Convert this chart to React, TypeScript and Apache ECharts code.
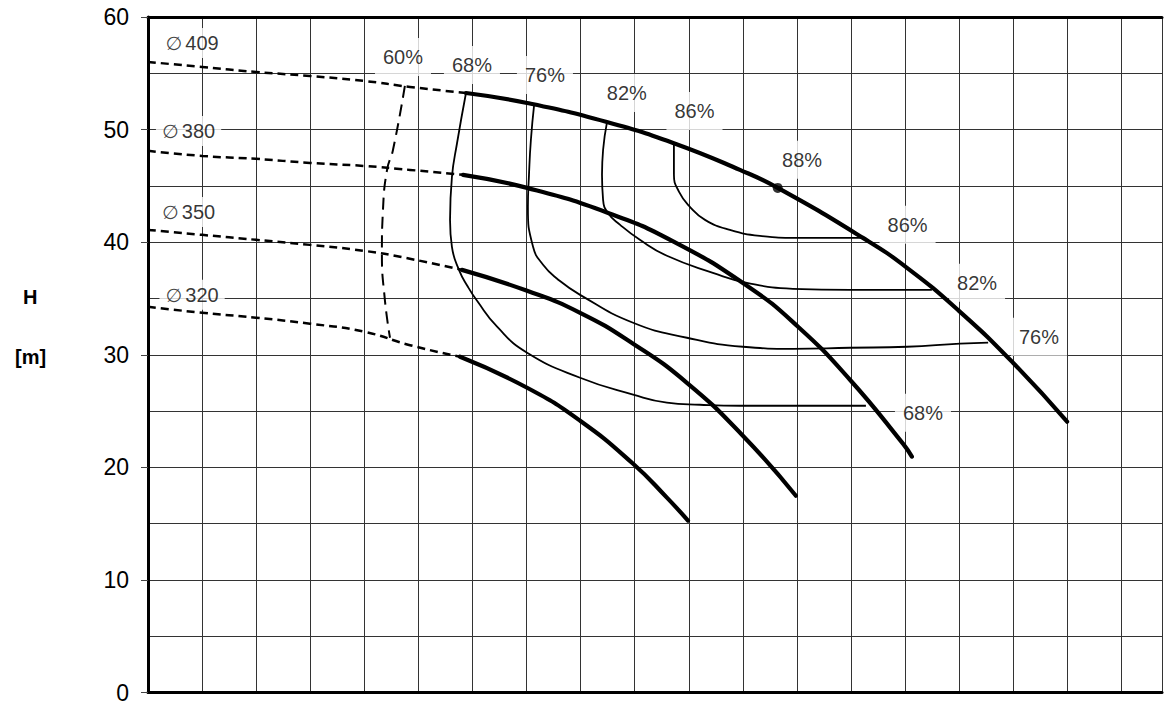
import React, { useEffect, useRef } from "react";
import * as echarts from "echarts";

// x: flow units (grid every 20), y: head H [m]
const xMax = 375;
const xStep = 20;
const yTicks = [0, 10, 20, 30, 40, 50, 60];

// Impeller diameter curves: dashed (out of range) and solid (operating) parts
const d409Dashed = [[0, 56.01], [20.0, 55.56], [39.9, 55.12], [59.9, 54.76], [79.9, 54.32], [96.9, 53.79], [117.6, 53.25]];
const d409Solid = [[117.6, 53.25], [140.2, 52.36], [169.7, 50.67], [194.2, 48.81], [218.9, 46.42], [232.9, 44.82], [264.4, 40.38], [280.7, 37.72], [299.9, 33.9], [319.9, 29.29], [339.9, 24.05]];
const d380Dashed = [[0, 48.11], [20.0, 47.66], [39.9, 47.4], [59.9, 47.04], [79.9, 46.77], [96.9, 46.42], [116.5, 45.98]];
const d380Solid = [[116.5, 45.98], [140.2, 44.82], [169.7, 42.64], [194.2, 40.07], [221.5, 36.13], [240.4, 32.49], [259.6, 27.78], [279.2, 22.1], [282.5, 20.95]];
const d350Dashed = [[0, 41.09], [20.0, 40.65], [39.9, 40.21], [59.9, 39.76], [79.9, 39.23], [93.2, 38.7], [116.1, 37.54]];
const d350Solid = [[116.1, 37.54], [140.2, 35.68], [159.8, 33.73], [179.4, 30.98], [199.3, 27.51], [220.0, 22.81], [239.6, 17.48]];
const d320Dashed = [[0, 34.26], [20.0, 33.73], [39.9, 33.29], [59.9, 32.76], [79.9, 32.05], [96.9, 30.85], [115.4, 29.82]];
const d320Solid = [[115.4, 29.82], [140.2, 27.07], [159.8, 24.14], [179.4, 20.32], [191.9, 17.31], [199.7, 15.27]];

// Efficiency iso-curves
const eff60 = [[95.0, 53.88], [90.6, 48.19], [88.4, 46.42], [86.9, 42.87], [86.5, 39.05], [87.6, 34.88], [89.5, 31.51]];
const eff68 = [[117.6, 53.25], [114.3, 48.81], [112.4, 45.8], [111.7, 41.98], [112.4, 39.58], [115.0, 37.54], [118.3, 36.04], [121.7, 34.79], [129.1, 32.49], [140.2, 30.18], [159.8, 27.96], [179.4, 26.45], [191.9, 25.74], [204.1, 25.56], [218.9, 25.47], [265.5, 25.47]];
const eff76 = [[142.8, 52.19], [141.6, 49.08], [140.9, 45.98], [140.5, 43.14], [142.4, 39.59], [146.1, 37.99], [151.3, 36.75], [159.8, 35.32], [179.4, 32.84], [199.3, 31.51], [220.0, 30.71], [238.5, 30.53], [259.6, 30.62], [280.7, 30.71], [300.3, 30.98], [310.7, 31.07]];
const eff82 = [[169.7, 50.59], [168.3, 48.19], [167.9, 45.98], [168.3, 43.76], [170.1, 42.6], [174.6, 41.54], [181.9, 40.21], [191.9, 38.79], [208.9, 37.28], [221.5, 36.39], [238.5, 35.86], [259.6, 35.77], [289.9, 35.77]];
const eff86 = [[194.5, 48.64], [194.5, 45.98], [196.4, 44.47], [200.4, 43.14], [206.0, 41.98], [215.2, 41.09], [226.3, 40.56], [240.0, 40.38], [264.1, 40.38]];
const bestPoint = [[232.9, 44.82]];

// Labels
const diameterLabels = [
  { name: "409", value: [16.3, 57.69] },
  { name: "380", value: [15.0, 49.88] },
  { name: "350", value: [15.0, 42.69] },
  { name: "320", value: [16.3, 35.33] },
];
const effLabels = [
  { name: "60%", value: [94.3, 56.45] },
  { name: "68%", value: [119.8, 55.74] },
  { name: "76%", value: [146.8, 54.85] },
  { name: "82%", value: [177.1, 53.25] },
  { name: "86%", value: [202.1, 51.66] },
  { name: "88%", value: [241.9, 47.31] },
  { name: "86%", value: [280.9, 41.54] },
  { name: "82%", value: [306.6, 36.39] },
  { name: "76%", value: [329.5, 31.6] },
  { name: "68%", value: [286.6, 24.85] },
];

const FONT = "'Liberation Sans', Arial, Helvetica, sans-serif";

export default function App() {
  const ref = useRef<HTMLDivElement>(null);
  useEffect(() => {
    if (!ref.current) return;
    const chart = echarts.init(ref.current, null, { renderer: "svg" });
    const solid = (data: number[][]) => ({
      type: "line", data, smooth: 0.5, symbol: "none", z: 4,
      lineStyle: { color: "#000", width: 4.2, cap: "round" },
    });
    const dashed = (data: number[][]) => ({
      type: "line", data, smooth: 0.5, symbol: "none", z: 3,
      lineStyle: { color: "#000", width: 2.5, type: [8, 5] },
    });
    const thin = (data: number[][]) => ({
      type: "line", data, smooth: 0.5, symbol: "none", z: 3,
      lineStyle: { color: "#000", width: 1.8 },
    });
    chart.setOption({
      animation: false,
      backgroundColor: "#fff",
      textStyle: { fontFamily: FONT },
      grid: { left: 148, top: 17, right: 10, bottom: 11, containLabel: false },
      xAxis: [
        {
          type: "value", min: 0, max: xMax, interval: xStep, position: "bottom",
          axisLine: { show: true, onZero: false, lineStyle: { color: "#000", width: 3 } },
          axisTick: { show: false }, axisLabel: { show: false },
          splitLine: { show: true, lineStyle: { color: "#333", width: 1 } },
        },
        {
          type: "value", min: 0, max: xMax, interval: xStep, position: "top",
          axisLine: { show: true, onZero: false, lineStyle: { color: "#000", width: 3 } },
          axisTick: { show: false }, axisLabel: { show: false }, splitLine: { show: false },
        },
      ],
      yAxis: {
        type: "value", min: yTicks[0], max: yTicks[yTicks.length - 1], interval: 10,
        axisLine: { show: true, onZero: false, lineStyle: { color: "#000", width: 3 } },
        axisTick: { show: true, length: 7, lineStyle: { color: "#444", width: 1 } },
        axisLabel: { show: true, margin: 19, fontSize: 23, color: "#000", fontFamily: FONT },
        splitLine: { show: true, lineStyle: { color: "#333", width: 1 } },
        minorTick: { show: false, splitNumber: 2 },
        minorSplitLine: { show: true, lineStyle: { color: "#333", width: 1 } },
      },
      graphic: [
        { type: "text", left: 23, top: 287, style: { text: "H", fontSize: 20, fontWeight: "bold", fill: "#000", fontFamily: FONT } },
        { type: "text", left: 15, top: 347, style: { text: "[m]", fontSize: 20, fontWeight: "bold", fill: "#000", fontFamily: FONT } },
      ],
      series: [
        {
          type: "scatter", data: diameterLabels, symbolSize: 1, z: 2,
          itemStyle: { color: "rgba(0,0,0,0)" },
          label: {
            show: true, position: "inside", backgroundColor: "#fff", padding: [5, 6],
            textBorderWidth: 0,
            formatter: (p: any) => `{s|\u2205} {n|${p.name}}`,
            rich: {
              s: { fontSize: 19, fontFamily: "'DejaVu Sans', sans-serif", color: "#111", textBorderWidth: 0 },
              n: { fontSize: 20, fontFamily: FONT, color: "#000", textBorderWidth: 0 },
            },
          },
        },
        {
          type: "scatter", data: effLabels, symbolSize: 1, z: 2,
          itemStyle: { color: "rgba(0,0,0,0)" },
          label: {
            show: true, position: "inside", backgroundColor: "#fff", padding: [9, 8],
            textBorderWidth: 0,
            formatter: (p: any) => p.name, fontSize: 20, color: "#000", fontFamily: FONT,
          },
        },
        dashed(d409Dashed), solid(d409Solid),
        dashed(d380Dashed), solid(d380Solid),
        dashed(d350Dashed), solid(d350Solid),
        dashed(d320Dashed), solid(d320Solid),
        {
          type: "line", data: eff60, smooth: 0.5, symbol: "none", z: 3,
          lineStyle: { color: "#000", width: 2, type: [12, 7] },
        },
        thin(eff68), thin(eff76), thin(eff82), thin(eff86),
        {
          type: "scatter", data: bestPoint, symbol: "circle", symbolSize: 10, z: 5,
          itemStyle: { color: "#000" },
        },
      ],
    });
    return () => chart.dispose();
  }, []);
  return (
    <div
      ref={ref}
      style={{ position: "fixed", left: 0, top: 0, width: 1172, height: 704, background: "#fff" }}
    />
  );
}
